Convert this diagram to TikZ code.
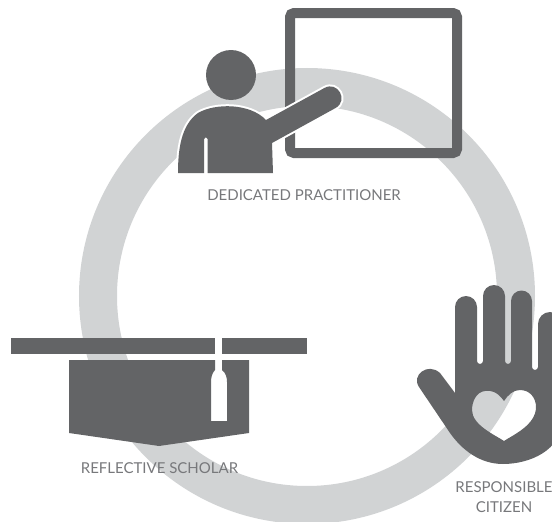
\documentclass[tikz,border=0pt]{standalone}
\usepackage{xcolor}
\usepackage{fontspec}
\setmainfont{Lato}
\definecolor{icongray}{HTML}{636466}
\definecolor{ringgray}{HTML}{D1D3D4}
\definecolor{labelgray}{HTML}{77787B}
\tikzset{
  icon/.style={fill=icongray,draw=none},
  label text/.style={text=labelgray,font=\fontsize{15}{20.5}\selectfont,align=center,inner sep=0pt}
}
\begin{document}
\begin{tikzpicture}[x=1pt,y=-1pt]
\useasboundingbox (0,0) rectangle (552,522);
\clip (0,0) rectangle (552,522);
% ring
\draw[color=ringgray,line width=38pt] (307,296) circle (209);
% board and teacher
\draw[color=icongray,line width=10pt,rounded corners=4pt] (290,13) rectangle (457,153);
\fill[icon] (231,75) circle (25);
\fill[icon,preaction={draw=white,line width=4pt}] (178,173) .. controls (178,150) and (181,125) .. (198,113)
  .. controls (215,103) and (250,103) .. (266,120) -- (324.4,88)
  .. controls (337.7,80.5) and (348.9,100.5) .. (335.6,108) -- (272,143) -- (273,173) -- (207.5,173) -- (207.5,139)
  arc (0:-180:1.75) -- (204,173) -- cycle;
% cap
\fill[icon] (11,338) rectangle (215,354);
\fill[icon] (222,338) rectangle (307,354);
\fill[icon,even odd rule] (69,360) -- (215,360) -- (215,370) .. controls (212,373) and (211,378) .. (211,382) -- (211,421) -- (227,421) -- (227,382)
  .. controls (227,378) and (226,373) .. (222,370) -- (222,360) -- (249,360) -- (249,433) -- (159,446) -- (69,433) -- cycle;
% hand with the heart cut out
\fill[icon,even odd rule] (455,393) -- (455,307) arc (180:360:11) -- (477,361) arc (180:0:3)
  -- (483,296) arc (180:360:11) -- (505,361) arc (180:0:3)
  -- (511,301) arc (180:360:10.5) -- (532,367) arc (180:0:3)
  -- (538,324) arc (180:360:12) -- (562,420)
  .. controls (562,450) and (530,464) .. (503,464) .. controls (480,464) and (462,450) .. (450,433) -- (419,387)
  .. controls (411,375) and (428,362) .. (440,373) -- cycle
  (504,401) .. controls (497,391) and (490,390) .. (485,391) .. controls (476,392) and (472,402) .. (472,410)
  .. controls (472,425) and (495,435) .. (504,441) .. controls (513,435) and (536,425) .. (536,407)
  .. controls (536,398) and (530,390) .. (520,390) .. controls (513,390) and (508,395) .. (504,401) -- cycle;
% labels
\node[label text] (practitioner) at (304,195) {DEDICATED PRACTITIONER};
\node[label text] (scholar) at (159.5,468.5) {REFLECTIVE SCHOLAR};
\node[label text] (citizen) at (504,497) {RESPONSIBLE\\CITIZEN};
\end{tikzpicture}
\end{document}
